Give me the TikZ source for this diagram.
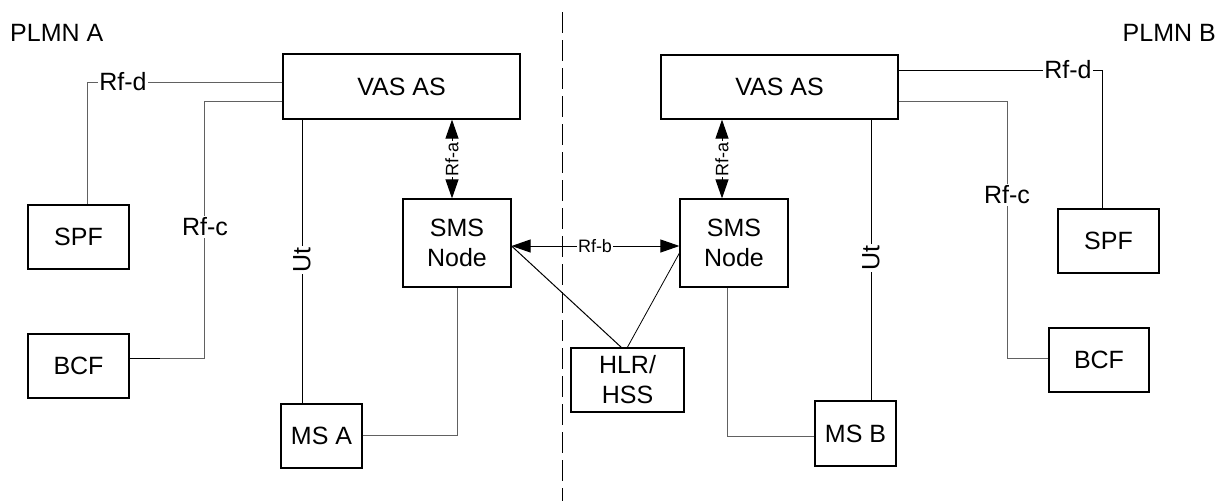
\documentclass[tikz,border=0pt]{standalone}
\usepackage{fontspec}
\setmainfont{Liberation Sans}
\usetikzlibrary{arrows.meta}
\definecolor{lgray}{rgb}{0.38,0.38,0.38}
\begin{document}
\begin{tikzpicture}[x=1pt,y=-1pt,
  box/.style={draw, line width=1.2pt, inner sep=0pt, align=center,
    font=\fontsize{25}{30}\selectfont},
  conn/.style={line width=1pt, black},
  gconn/.style={line width=1pt, lgray},
  lbl/.style={fill=white, inner sep=1.5pt, font=\fontsize{25}{30}\selectfont},
  slbl/.style={fill=white, inner sep=1pt, font=\fontsize{18}{20}\selectfont},
  dbl/.style={line width=1pt, {Triangle[length=19pt,width=13pt]}-{Triangle[length=19pt,width=13pt]}},
  plmn/.style={font=\fontsize{25}{30}\selectfont, inner sep=0pt}]
\useasboundingbox (0,0) rectangle (1226,501);

% titles
\node[plmn, anchor=west] (plmnA) at (10,33) {PLMN A};
\node[plmn, anchor=east] (plmnB) at (1216,33) {PLMN B};

% boundary
\coordinate (bt) at (562,12);
\coordinate (bb) at (562,501);
\draw[line width=1pt, dash pattern=on 21pt off 7pt] (bt) -- (bb);

% boxes
\node[box, minimum width=237pt, minimum height=65pt] (vasA) at (401.5,86.5) {VAS AS};
\node[box, minimum width=237pt, minimum height=64pt] (vasB) at (779.5,87) {VAS AS};
\node[box, minimum width=101pt, minimum height=64pt] (spfA) at (78.5,237) {SPF};
\node[box, minimum width=101pt, minimum height=64pt] (bcfA) at (78.5,366) {BCF};
\node[box, minimum width=81pt, minimum height=64pt] (msA) at (321.5,436) {MS A};
\node[box, minimum width=108pt, minimum height=88pt] (smsA) at (457,243) {SMS\\Node};
\node[box, minimum width=108pt, minimum height=88pt] (smsB) at (734,243) {SMS\\Node};
\node[box, minimum width=113pt, minimum height=64pt] (hlr) at (627.5,380) {HLR/\\HSS};
\node[box, minimum width=81pt, minimum height=65pt] (msB) at (855.5,433.5) {MS B};
\node[box, minimum width=101pt, minimum height=64pt] (spfB) at (1108.5,241) {SPF};
\node[box, minimum width=100pt, minimum height=64pt] (bcfB) at (1099,360) {BCF};

% helper coordinates
\coordinate (rfdA) at (87,82);
\coordinate (rfcA1) at (204,101);
\coordinate (rfcA2) at (204,358);
\coordinate (utA) at (302,260);
\coordinate (rfaA) at (452,159);
\coordinate (msAc) at (457,435);
\coordinate (rfb) at (595,246);
\coordinate (rfaB) at (722,159);
\coordinate (utB) at (871,258);
\coordinate (msBc) at (727,436);
\coordinate (rfdB) at (1102,70);
\coordinate (rfcB1) at (1007,101);
\coordinate (rfcB2) at (1007,358);
\coordinate (hA) at (622,348);
\coordinate (hB) at (627,348);
\coordinate (sBl) at (680,252);

% PLMN A connectors
\draw[gconn] (vasA.west |- rfdA) -- (rfdA) -- (rfdA |- spfA.north);
\node[lbl] (lrfdA) at (123,82) {Rf-d};
\draw[gconn] (vasA.west |- rfcA1) -- (rfcA1) -- (rfcA2) -- (rfcA2 -| bcfA.east);
\draw[conn] (rfcA2 -| bcfA.east) -- ++(30,0);
\node[lbl] (lrfcA) at (205,227) {Rf-c};
\draw[conn] (vasA.south -| utA) -- (msA.north -| utA);
\node[lbl, rotate=90] (lutA) at (utA) {Ut};
\draw[gconn] (msA.east |- msAc) -- (msAc) -- (smsA.south -| msAc);
\draw[dbl] (vasA.south -| rfaA) -- (smsA.north -| rfaA);
\node[slbl, rotate=90] (lrfaA) at (rfaA) {Rf-a};

% inter-PLMN
\draw[dbl] (smsA.east |- rfb) -- (smsB.west |- rfb);
\node[slbl] (lrfb) at (rfb) {Rf-b};
\draw[conn] (smsA.east |- rfb) -- (hA);
\draw[line width=0.8pt] (sBl) -- (hB);

% PLMN B connectors
\draw[dbl] (vasB.south -| rfaB) -- (smsB.north -| rfaB);
\node[slbl, rotate=90] (lrfaB) at (rfaB) {Rf-a};
\draw[conn] (vasB.south -| utB) -- (msB.north -| utB);
\node[lbl, rotate=90] (lutB) at (utB) {Ut};
\draw[gconn] (smsB.south -| msBc) -- (msBc) -- (msB.west |- msBc);
\draw[conn] (vasB.east |- rfdB) -- (rfdB) -- (rfdB |- spfB.north);
\node[lbl] (lrfdB) at (1068,70) {Rf-d};
\draw[gconn] (vasB.east |- rfcB1) -- (rfcB1) -- (rfcB2) -- (rfcB2 -| bcfB.west);
\node[lbl] (lrfcB) at (1007,195) {Rf-c};
\end{tikzpicture}
\end{document}
